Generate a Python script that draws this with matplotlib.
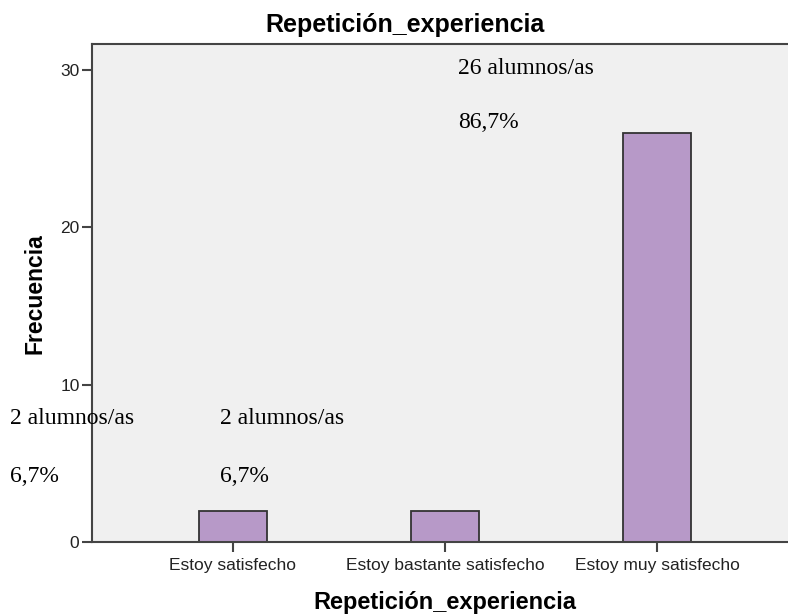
import matplotlib.pyplot as plt

# data
categorias = ["Estoy satisfecho", "Estoy bastante satisfecho", "Estoy muy satisfecho"]
frecuencias = [2, 2, 26]
porcentajes = [6.7, 6.7, 86.7]

W, H = 788, 614
fig = plt.figure(figsize=(W / 100, H / 100), dpi=100)

# plot area in pixels: left 92, right 788, top 44, bottom 542
ax = fig.add_axes([92 / W, (H - 542) / H, (788 - 92) / W, (542 - 44) / H])
ax.set_facecolor("#F0F0F0")

x = list(range(len(categorias)))
ax.bar(x, frecuencias, width=0.32, color="#B799C8", edgecolor="#333333", linewidth=1.3)

ax.set_xlim(-0.665, 2.618)
ax.set_ylim(0, 31.66)
ax.set_yticks([0, 10, 20, 30])
ax.set_xticks(x)
ax.set_xticklabels(categorias)

for s in ["left", "bottom", "top"]:
    ax.spines[s].set_color("#444444")
    ax.spines[s].set_linewidth(1.5)
ax.spines["right"].set_visible(False)

ax.tick_params(axis="both", direction="out", length=7.5, width=1.5, color="#444444",
               labelsize=12.5, labelcolor="#222222")
ax.tick_params(axis="x", pad=4)
ax.tick_params(axis="y", pad=1.5)
for lab in ax.get_xticklabels() + ax.get_yticklabels():
    lab.set_family("Liberation Sans")

# titles
fig.text(405 / W, 1 - 25 / H, "Repetición_experiencia", ha="center", va="center",
         fontsize=18, fontweight="bold", family="Liberation Sans")
fig.text(445 / W, 1 - 602 / H, "Repetición_experiencia", ha="center", va="center",
         fontsize=17, fontweight="bold", family="Liberation Sans")
fig.text(35 / W, 1 - 294 / H, "Frecuencia", ha="center", va="center", rotation=90,
         fontsize=16.5, fontweight="bold", family="Liberation Sans")

# annotations (positions as in the original, in pixels)
etiquetas = [(10, 419, 477, 0), (220, 419, 477, 1), (458, 68, 122, 2)]
for px, py1, py2, i in etiquetas:
    fig.text(px / W, 1 - py1 / H, f"{frecuencias[i]} alumnos/as", ha="left", va="center",
             fontsize=17, family="Liberation Serif")
    fig.text(px / W, 1 - py2 / H, f"{porcentajes[i]:.1f}%".replace(".", ","), ha="left",
             va="center", fontsize=17, family="Liberation Serif")

fig.savefig("out.png", dpi=100)
